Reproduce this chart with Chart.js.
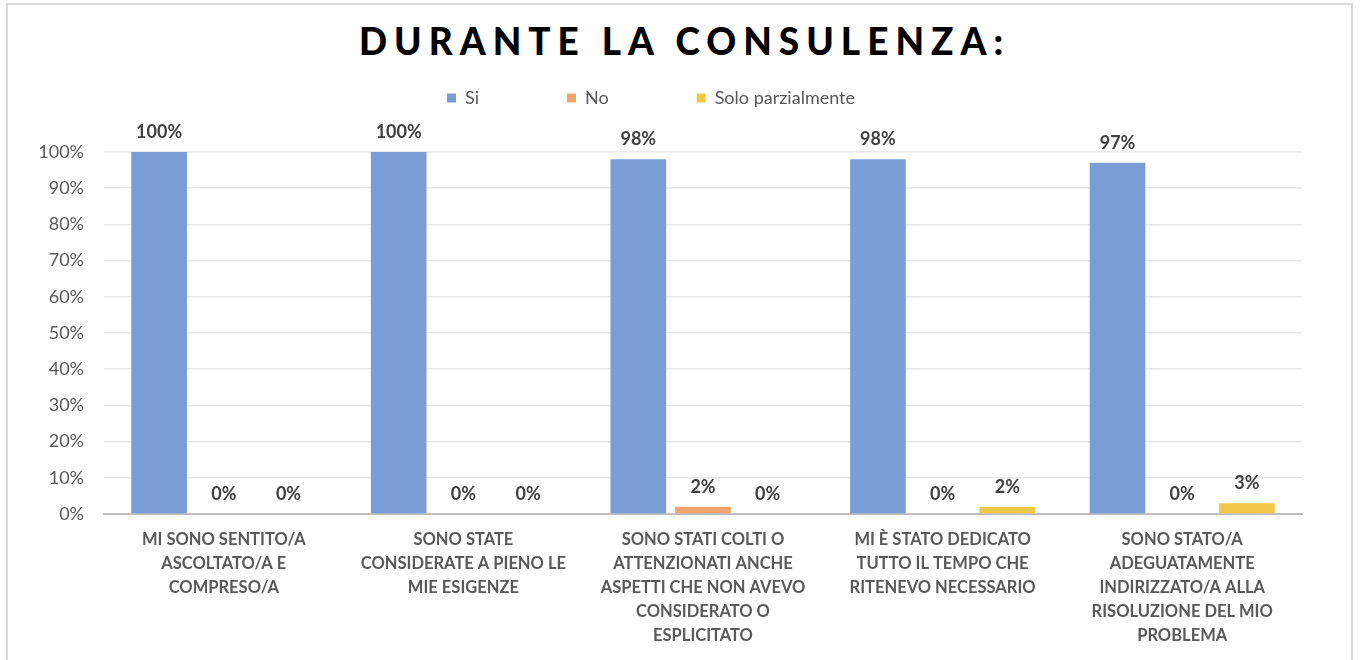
<!DOCTYPE html>
<html>
<head>
<meta charset="utf-8">
<script src="https://cdn.jsdelivr.net/npm/chart.js@4.4.1/dist/chart.umd.min.js"></script>
<style>
    html, body { margin: 0; padding: 0; background: #fff; }
    #wrap { position: relative; width: 1362px; height: 660px; overflow: hidden; }
    #frame {
        position: absolute; left: 6px; top: 3px; width: 1347px; height: 700px;
        border: 2px solid #d9d9d9; box-sizing: border-box;
    }
    #title {
        position: absolute; left: 0; top: 18px; width: 1362px; text-align: center;
        font-family: Lato, "Open Sans", sans-serif; font-weight: 900; font-size: 37px;
        letter-spacing: 7px; color: #000; padding-left: 7px; box-sizing: border-box;
    }
    canvas { position: absolute; left: 0; top: 0; }
</style>
</head>
<body>
<div id="wrap">
    <div id="frame"></div>
    <div id="title">DURANTE LA CONSULENZA:</div>
    <canvas id="chart" width="1362" height="660"></canvas>
</div>
<script>
const categories = [
    ["MI SONO SENTITO/A", "ASCOLTATO/A E", "COMPRESO/A"],
    ["SONO STATE", "CONSIDERATE A PIENO LE", "MIE ESIGENZE"],
    ["SONO STATI COLTI O", "ATTENZIONATI ANCHE", "ASPETTI CHE NON AVEVO", "CONSIDERATO O", "ESPLICITATO"],
    ["MI È STATO DEDICATO", "TUTTO IL TEMPO CHE", "RITENEVO NECESSARIO"],
    ["SONO STATO/A", "ADEGUATAMENTE", "INDIRIZZATO/A ALLA", "RISOLUZIONE DEL MIO", "PROBLEMA"]
];
const seriesNames = ["Si", "No", "Solo parzialmente"];
const siValues = [100, 100, 98, 98, 97];
const noValues = [0, 0, 2, 0, 0];
const parzValues = [0, 0, 0, 2, 3];
const yTicks = [0, 10, 20, 30, 40, 50, 60, 70, 80, 90, 100];

const colors = ["#7b9dd5", "#f2a46f", "#f1c84a"];
const fontFamily = "Lato, 'Open Sans', sans-serif";

// value labels above each bar
const barLabels = {
    id: "barLabels",
    afterDatasetsDraw(chart) {
        const ctx = chart.ctx;
        ctx.save();
        ctx.font = "bold 18px " + fontFamily;
        ctx.fillStyle = "#404040";
        ctx.textAlign = "center";
        ctx.textBaseline = "alphabetic";
        chart.data.datasets.forEach(function (ds, i) {
            chart.getDatasetMeta(i).data.forEach(function (bar, j) {
                ctx.fillText(ds.data[j] + "%", bar.x, bar.y - 14);
            });
        });
        ctx.restore();
    }
};

// push the plot area down below the legend
const legendGap = {
    id: "legendGap",
    beforeInit(chart) {
        const fit = chart.legend.fit;
        chart.legend.fit = function () {
            fit.bind(chart.legend)();
            this.height += 35;
        };
    }
};

new Chart(document.getElementById("chart"), {
    type: "bar",
    data: {
        labels: categories,
        datasets: [
            { label: seriesNames[0], data: siValues, backgroundColor: colors[0] },
            { label: seriesNames[1], data: noValues, backgroundColor: colors[1] },
            { label: seriesNames[2], data: parzValues, backgroundColor: colors[2] }
        ]
    },
    options: {
        responsive: false,
        animation: false,
        layout: { padding: { top: 1, right: 60, left: 0, bottom: 0 } },
        datasets: { bar: { categoryPercentage: 0.81, barPercentage: 0.86 } },
        plugins: {
            legend: {
                position: "top",
                labels: {
                    boxWidth: 9, boxHeight: 9, padding: 88,
                    color: "#595959",
                    font: { family: fontFamily, size: 18 }
                }
            },
            tooltip: { enabled: false }
        },
        scales: {
            x: {
                grid: { display: false, drawTicks: false },
                border: { color: "#bfbfbf", width: 2 },
                ticks: {
                    autoSkip: false, maxRotation: 0, padding: 14,
                    color: "#595959",
                    font: { family: fontFamily, size: 16.5, weight: "bold", lineHeight: 1.45 }
                },
                afterFit(scale) { scale.height = 146; }
            },
            y: {
                min: 0, max: 100,
                grid: { color: "#e8e8e8", lineWidth: 1.5, drawTicks: false },
                border: { display: false },
                afterBuildTicks(scale) { scale.ticks = yTicks.map(v => ({ value: v })); },
                ticks: {
                    padding: 20, color: "#595959",
                    font: { family: fontFamily, size: 18 },
                    callback: v => v + "%"
                },
                afterFit(scale) { scale.width = 104; }
            }
        }
    },
    plugins: [barLabels, legendGap]
});
</script>
</body>
</html>
